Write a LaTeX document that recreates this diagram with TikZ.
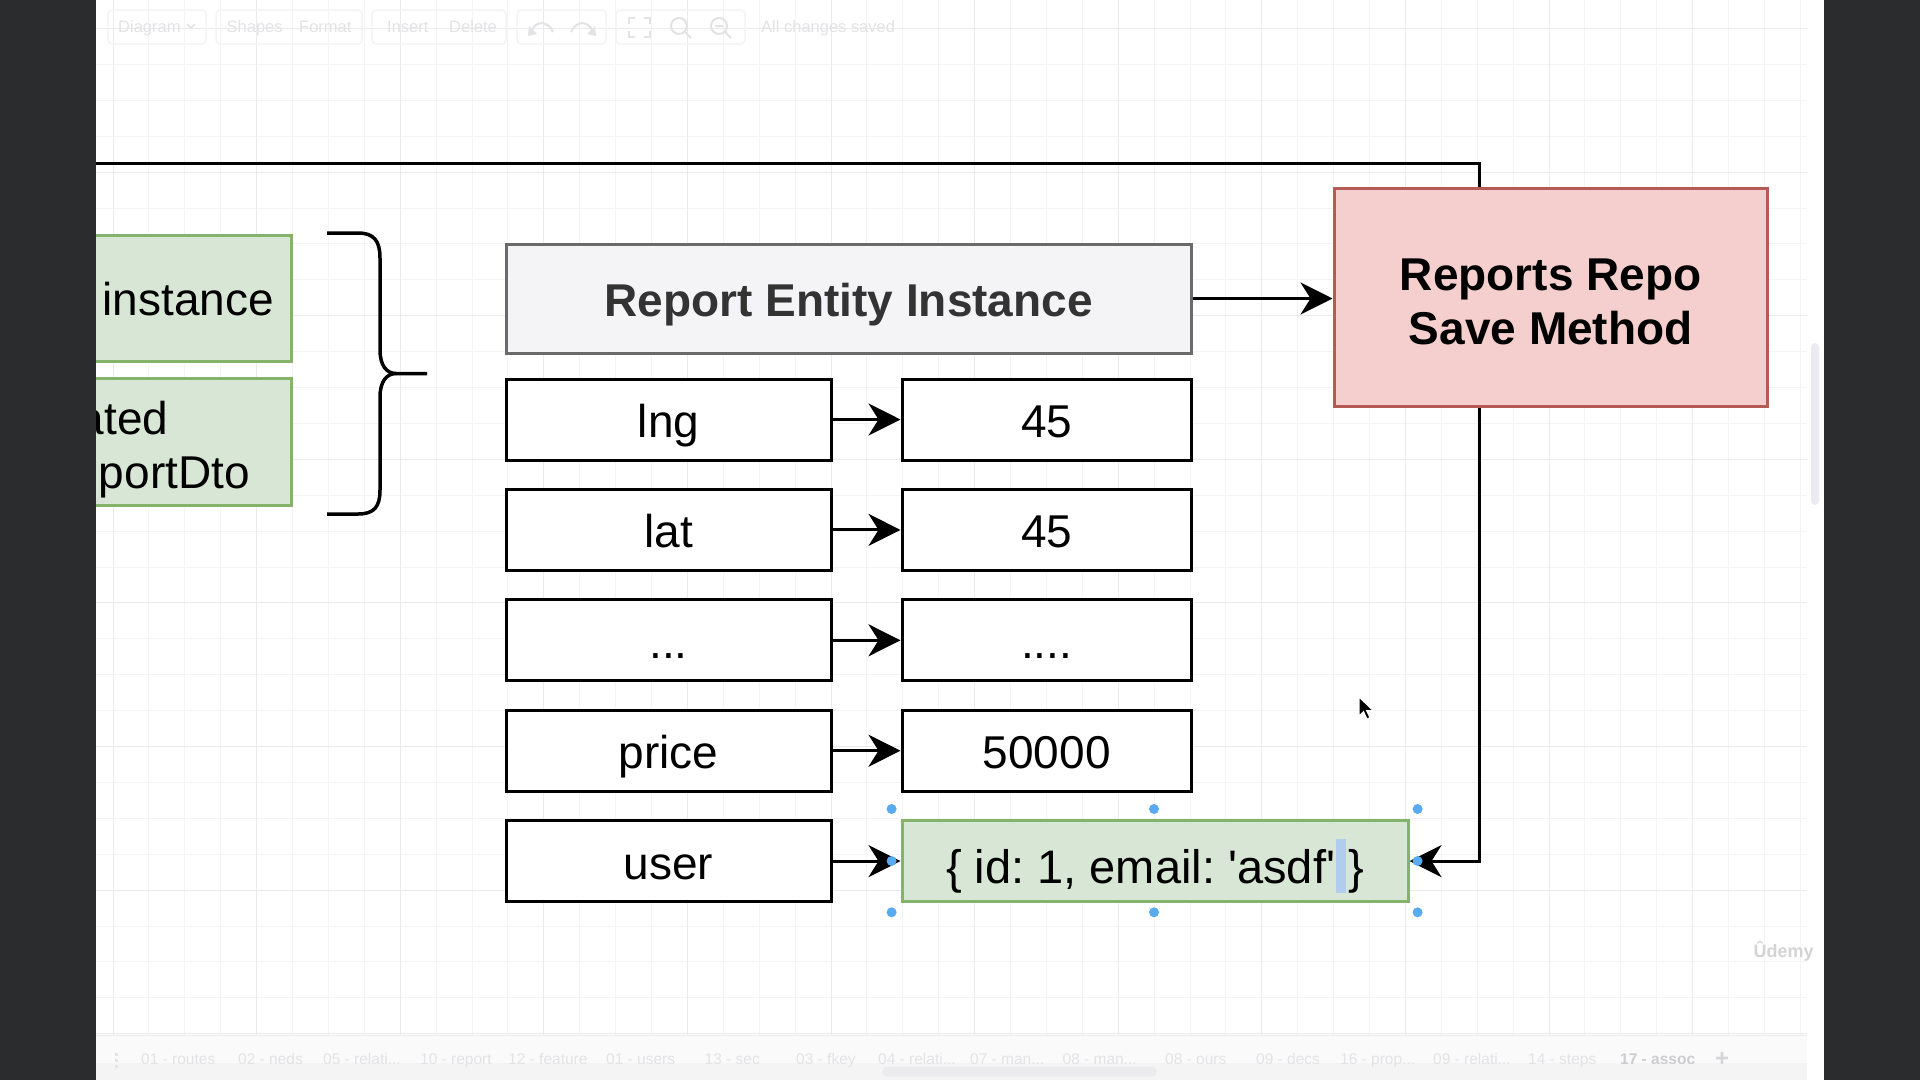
\documentclass[tikz,border=0pt]{standalone}
\usepackage{fontspec}
\setmainfont{Liberation Sans}
\usetikzlibrary{positioning, arrows.meta}
\frenchspacing

\definecolor{strip}{HTML}{2B2C2E}
\definecolor{gridmin}{HTML}{F4F4F5}
\definecolor{gridmaj}{HTML}{EBEBED}
\definecolor{uitext}{HTML}{E3E3E5}
\definecolor{uistrong}{HTML}{CDCDD0}
\definecolor{tabfill}{HTML}{FAFAFB}
\definecolor{dtofill}{HTML}{D8E7D5}
\definecolor{dtoline}{HTML}{86B36C}
\definecolor{repofill}{HTML}{F5CFCD}
\definecolor{repoline}{HTML}{B65A56}
\definecolor{entfill}{HTML}{F4F4F6}
\definecolor{entline}{HTML}{6A6A6A}
\definecolor{enttext}{HTML}{333333}
\definecolor{handle}{HTML}{5AAAF0}
\definecolor{caret}{HTML}{B1CCEC}
\newcommand\tabdots{...}

\begin{document}
\begin{tikzpicture}[x=1pt, y=-1pt, on grid, node distance=110.4pt,
    big/.style={font=\fontsize{46}{54}\selectfont},
    cell/.style={draw, line width=3pt, fill=white, minimum width=325pt,
      minimum height=81pt, inner sep=0pt, big, text height=46pt, text depth=10pt},
    val/.style={cell, minimum width=289.5pt},
    dtoval/.style={cell, fill=dtofill, draw=dtoline, minimum width=506pt,
      font=\fontsize{47}{56}\selectfont, text height=50pt, text depth=6pt},
    dto/.style={draw=dtoline, fill=dtofill, line width=3pt, minimum width=260pt, inner sep=0pt},
    entity/.style={draw=entline, fill=entfill, line width=3pt, minimum width=685.5pt,
      minimum height=109pt, inner sep=0pt, text=enttext,
      font=\bfseries\fontsize{46}{54}\selectfont, text height=46pt, text depth=11pt},
    repo/.style={draw=repoline, fill=repofill, line width=3pt, minimum width=433.5pt,
      minimum height=217.7pt, inner sep=0pt, align=center,
      font=\bfseries\fontsize{46}{54}\selectfont},
    >={Stealth[length=32pt, width=32pt, inset=10pt]},
    link/.style={->, line width=3pt},
    ui/.style={text=uitext, font=\fontsize{16.5}{20}\selectfont, anchor=base west, inner sep=0pt},
    tab/.style={text=uitext, font=\fontsize{15.5}{19}\selectfont, anchor=base west, inner sep=0pt},
    icon/.style={draw=uitext, line width=2pt},
    ]
  \useasboundingbox (0,0) rectangle (1920,1080);
  \fill[white] (0,0) rectangle (1920,1080);

  % canvas grid
  \foreach \k in {3,...,50}
    \draw[gridmin, line width=1pt] ({5.3+\k*35.9},0) -- ({5.3+\k*35.9},1035);
  \foreach \k in {0,...,28}
    \draw[gridmin, line width=1pt] (96,{28.5+\k*35.9}) -- (1807,{28.5+\k*35.9});
  \foreach \k in {0,...,11}
    \draw[gridmaj, line width=1pt] ({113+\k*143.6},0) -- ({113+\k*143.6},1035);
  \foreach \k in {0,...,7}
    \draw[gridmaj, line width=1pt] (96,{28.5+\k*143.6}) -- (1807,{28.5+\k*143.6});

  % toolbar
  \foreach \a/\b in {108/206, 216/362, 372/506, 517/606, 616/745}
    \draw[draw=gridmin, line width=1.5pt, rounded corners=4pt] (\a,10) rectangle (\b,44);
  \node[ui] (tbdiagram) at (118,32) {Diagram};
  \draw[icon, line width=1.5pt] (187,24) -- (191,28) -- (195,24);
  \node[ui] (tbshapes) at (226.5,32) {Shapes};
  \node[ui] (tbformat) at (299,32) {Format};
  \node[ui] (tbinsert) at (387,32) {Insert};
  \node[ui] (tbdelete) at (449,32) {Delete};
  \draw[icon] (531,33) .. controls (534,20) and (548,20) .. (553,32);
  \fill[uitext] (529,26) -- (537,34) -- (528,36) -- cycle;
  \draw[icon] (593,33) .. controls (590,20) and (576,20) .. (571,32);
  \fill[uitext] (595,26) -- (587,34) -- (596,36) -- cycle;
  \draw[icon] (629,24) -- (629,18) -- (635,18) (644,18) -- (650,18) -- (650,24)
    (650,31) -- (650,37) -- (644,37) (635,37) -- (629,37) -- (629,31);
  \draw[icon] (679,26) circle (8pt) (685,32) -- (691,38);
  \draw[icon] (719,26) circle (8pt) (725,32) -- (731,38) (715,26) -- (723,26);
  \node[ui] (tbsaved) at (761,32) {All changes saved};

  % tab bar
  \fill[tabfill] (96,1035) rectangle (1807,1080);
  \fill[gridmin] (96,1063) rectangle (1807,1080);
  \draw[gridmaj, line width=1pt] (96,1035) -- (1807,1035);
  \foreach \d in {1053,1059,1065}
    \fill[uitext] (114.5,\d) rectangle (118,{\d+3});
  \foreach \x/\t in {141/01 - routes, 238/02 - neds, 323/05 - relati\tabdots, 420/10 - report,
      508/12 - feature, 606/01 - users, 704.5/13 - sec, 796/03 - fkey, 878/04 - relati\tabdots,
      970/07 - man\tabdots, 1062.5/08 - man\tabdots, 1165/08 - ours, 1256/09 - decs,
      1340/16 - prop\tabdots, 1433/09 - relati\tabdots, 1528/14 - steps}
    \node[tab] (tab-\x) at (\x,1064.3) {\t};
  \node[tab, text=uistrong, font=\bfseries\fontsize{15.5}{19}\selectfont] (tabassoc) at (1620,1064.3) {17 - assoc};
  \node[tab, text=uistrong!60!uitext, font=\bfseries\fontsize{24}{28}\selectfont] (tabplus) at (1715,1066) {+};
  \fill[gridmaj, rounded corners=5pt] (882,1066.5) rectangle (1157,1076.5);
  \fill[gridmaj, rounded corners=4pt] (1811,343) rectangle (1819,505);
  \node[ui, text=gridmaj!90!black, font=\bfseries\fontsize{18}{20}\selectfont] (udemy) at (1753.5,957) {Ûdemy};

  % left dto boxes, cut by the window edge
  \node[dto, minimum height=126.5pt] (dtoa) at (161,298.25) {};
  \node[dto, minimum height=127pt] (dtob) at (161,442) {};
  \node[big, anchor=base east, inner sep=0pt] (dtoatxt) at (274,315.5) {instance};
  \node[big, anchor=base east, inner sep=0pt] (dtobtxt) at (168.5,434) {ated};
  \node[big, anchor=base east, inner sep=0pt] (dtobtxtb) at (250,488) {portDto};

  % brace
  \draw[line width=3.5pt] (327,233) -- (358,233) .. controls (374,233) and (380,241) .. (380,258)
    -- (380,350) .. controls (380,366) and (387,373.5) .. (396,373.5) -- (427,373.5);
  \draw[line width=3.5pt] (396,373.5) .. controls (387,373.5) and (380,381) .. (380,397)
    -- (380,490) .. controls (380,507) and (374,514) .. (358,514) -- (327,514);

  \node[entity] (entity) at (848.75,298.5) {Report Entity Instance};
  \node[repo] (repo) at (1550.75,297.8)
    {\rule{0pt}{46pt}Reports Repo\\Save Method\rule[-7.6pt]{0pt}{7.6pt}};

  \node[cell] (lng) at (668.5,419.5) {lng};
  \node[cell, below=of lng] (lat) {lat};
  \node[cell, below=of lat] (etc) {...};
  \node[cell, below=of etc] (price) {price};
  \node[cell, below=of price] (user) {user};
  \node[val, right=378.25pt of lng] (lngv) {45};
  \node[val, right=378.25pt of lat] (latv) {45};
  \node[val, right=378.25pt of etc] (etcv) {....};
  \node[val, right=378.25pt of price] (pricev) {50000};
  \node[dtoval, right=486.5pt of user] (userv)
    {\{ id: 1, email: \textquotesingle asdf\textquotesingle{} \}};
  \fill[caret] (1336,839) rectangle (1346,893);

  \coordinate (feed) at (40,163);
  \coordinate (turn) at (1479,163);
  \draw[line width=3pt] (feed) -- (turn) -- (turn |- repo.north);
  \draw[link] (entity.east) -- (entity.east -| repo.west);
  \draw[link] (turn |- repo.south) |- (userv.east);

  \path[link]
  (lng) edge (lngv)
  (lat) edge (latv)
  (etc) edge (etcv)
  (price) edge (pricev)
  (user) edge (userv)
  ;

  % selection handles
  \foreach \x in {891.6,1154,1417.6}
    \foreach \y in {809,912.3}
      \fill[handle] (\x,\y) circle (5pt);
  \fill[handle] (891.6,861) circle (5pt) (1417.6,861) circle (5pt);

  % pointer
  \filldraw[fill=black, draw=white, line width=1pt] (1359,697) -- ++(0,19) -- ++(4.5,-4.5)
    -- ++(3.5,7.5) -- ++(3,-1.3) -- ++(-3.5,-7.2) -- ++(6.5,0) -- cycle;

  % window edges
  \fill[strip] (0,0) rectangle (95.5,1080);
  \fill[strip] (1824,0) rectangle (1920,1080);
\end{tikzpicture}
\end{document}
